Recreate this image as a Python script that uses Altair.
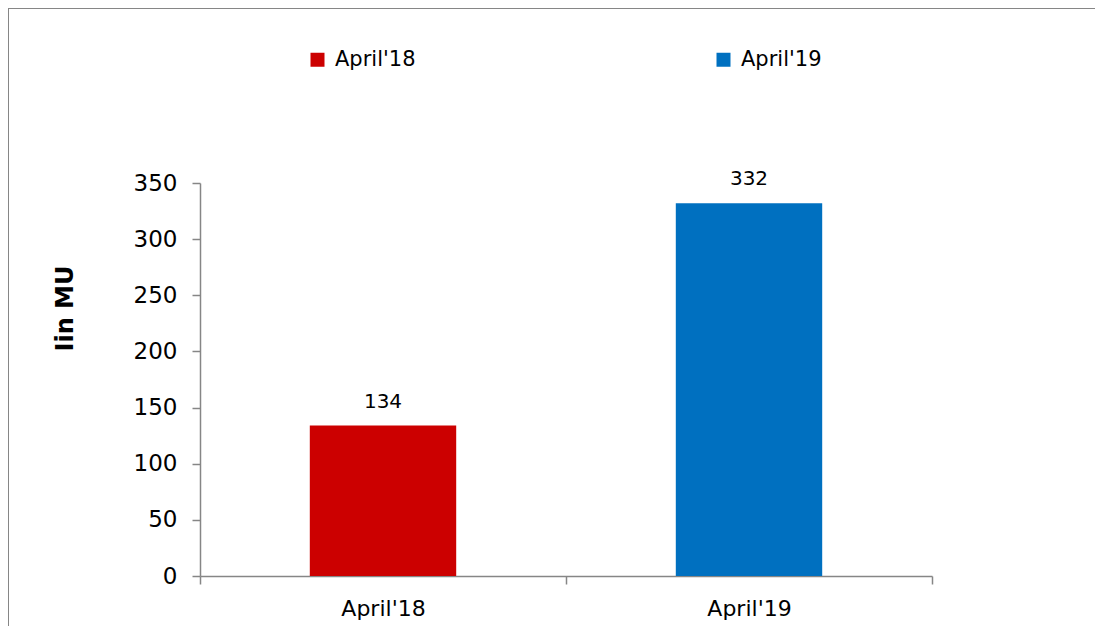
import altair as alt
import pandas as pd

categories = ["April'18", "April'19"]
values = [134, 332]
colors = ["#CC0000", "#0070C0"]
y_ticks = [0, 50, 100, 150, 200, 250, 300, 350]

df = pd.DataFrame({"month": categories, "value": values})
FONT = "DejaVu Sans"
AXIS_GRAY = "#868686"

x_enc = alt.X(
    "month:N",
    sort=categories,
    title=None,
    scale=alt.Scale(paddingInner=0, paddingOuter=0),
    axis=alt.Axis(
        labelAngle=0, tickBand="extent", tickSize=8, labelPadding=14,
        domainColor=AXIS_GRAY, tickColor=AXIS_GRAY, domainWidth=1.5, tickWidth=1.5,
        labelFont=FONT, labelFontSize=22, labelColor="black", grid=False,
    ),
)
y_enc = alt.Y(
    "value:Q",
    title="Iin MU",
    scale=alt.Scale(domain=[0, 350], nice=False),
    axis=alt.Axis(
        values=y_ticks, tickSize=8, labelPadding=15, grid=False,
        domainColor=AXIS_GRAY, tickColor=AXIS_GRAY, domainWidth=1.5, tickWidth=1.5,
        labelFont=FONT, labelFontSize=23, labelColor="black",
        titleFont=FONT, titleFontSize=24, titleFontWeight="bold", titleColor="black",
        titleX=-135, titleY=125, titleAngle=-90, titleAlign="center", titleBaseline="middle",
    ),
)

bars = alt.Chart(df).mark_bar(width=alt.RelativeBandSize(0.4)).encode(
    x=x_enc,
    y=y_enc,
    color=alt.Color(
        "month:N",
        sort=categories,
        scale=alt.Scale(domain=categories, range=colors),
        legend=alt.Legend(
            title=None, orient="none", legendX=107, legendY=-134,
            direction="horizontal", columns=2, columnPadding=297,
            symbolType="square", symbolSize=196, symbolStrokeWidth=0,
            labelFont=FONT, labelFontSize=21, labelColor="black", labelOffset=7,
        ),
    ),
)

labels = alt.Chart(df).mark_text(dy=-24, font=FONT, fontSize=20, color="black").encode(
    x=alt.X("month:N", sort=categories),
    y="value:Q",
    text="value:Q",
)

frame = alt.Chart(pd.DataFrame({"k": [0]})).mark_rect(
    fill=None, stroke=AXIS_GRAY, strokeWidth=2, clip=False
).encode(
    x=alt.value(-192), x2=alt.value(950), y=alt.value(-175), y2=alt.value(470)
)

chart = alt.layer(frame, bars, labels).properties(
    width=732, height=393,
    background="white",
    autosize=alt.AutoSizeParams(type="none"),
    padding={"left": 192, "top": 175, "right": 163, "bottom": 50},
).configure_view(strokeWidth=0, stroke="transparent")

chart.save("out.html", embed_options={"renderer": "svg", "actions": False})
